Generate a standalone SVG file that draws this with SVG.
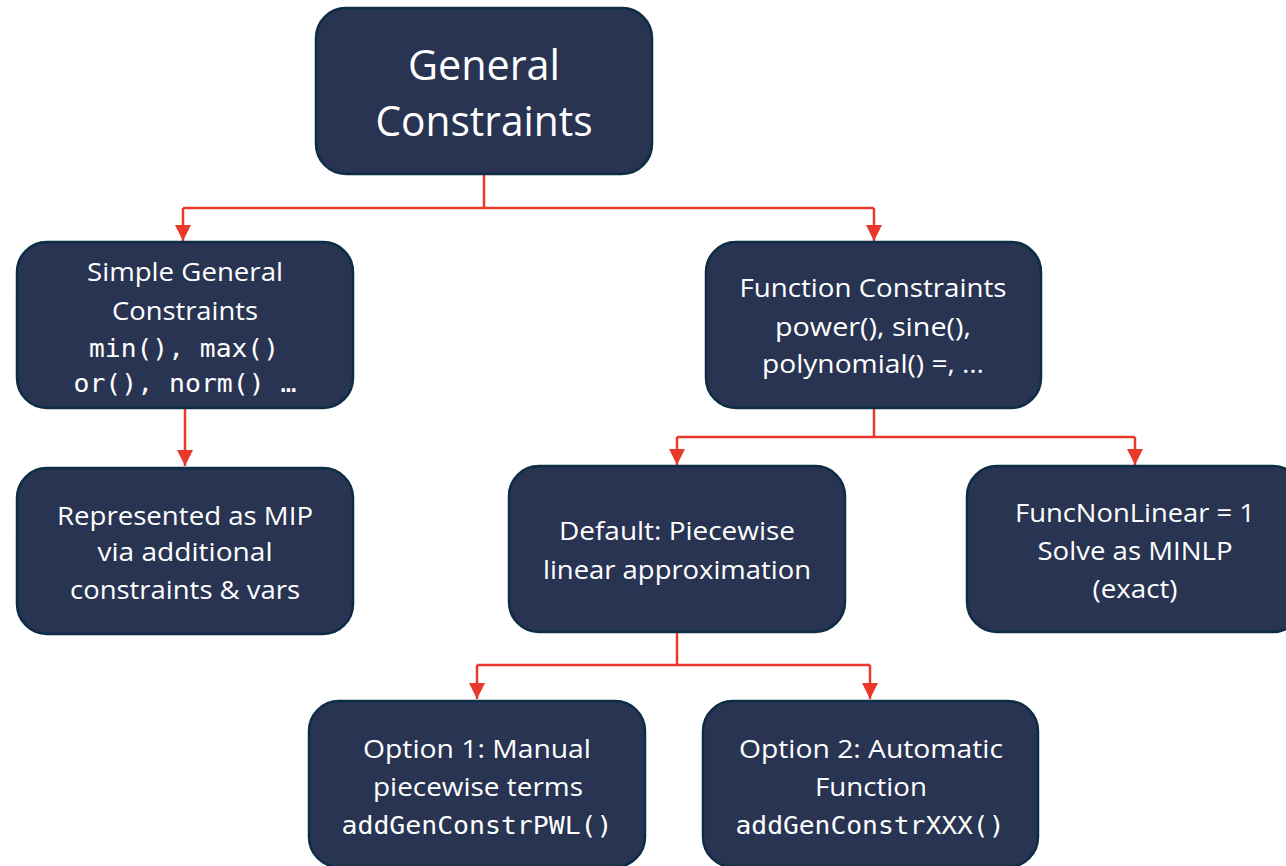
<svg xmlns="http://www.w3.org/2000/svg" width="1286" height="866" viewBox="0 0 1286 866">
<defs>
<style>
.box{fill:#283452;stroke:#0c2d44;stroke-width:2.5}
.t{fill:#ffffff;font-family:"Open Sans","Liberation Sans",sans-serif;font-size:26px;text-anchor:middle}
.big{font-size:42px}
.m{fill:#ffffff;font-family:"DejaVu Sans Mono","Liberation Mono",monospace;font-size:25px;text-anchor:middle}
.c{fill:none;stroke:#e8392a;stroke-width:2.5}
</style>
<marker id="down" markerWidth="16" markerHeight="16" viewBox="0 0 16 16" refX="8" refY="16" orient="0" markerUnits="userSpaceOnUse">
<path d="M0,0 L16,0 L8,16 Z" fill="#e8392a"/>
</marker>
</defs>
<rect width="1286" height="866" fill="#ffffff"/>
<g id="connectors">
<path class="c" d="M484,175 V208"/>
<path class="c" d="M183,208 H874"/>
<path class="c" d="M183,208 V241" marker-end="url(#down)"/>
<path class="c" d="M874,208 V241" marker-end="url(#down)"/>
<path class="c" d="M185,408 V466" marker-end="url(#down)"/>
<path class="c" d="M874,408 V437"/>
<path class="c" d="M677,437 H1135"/>
<path class="c" d="M677,437 V465" marker-end="url(#down)"/>
<path class="c" d="M1135,437 V465" marker-end="url(#down)"/>
<path class="c" d="M677,632 V665"/>
<path class="c" d="M477,665 H870"/>
<path class="c" d="M477,665 V699" marker-end="url(#down)"/>
<path class="c" d="M870,665 V699" marker-end="url(#down)"/>
</g>
<g id="node-general">
<rect class="box" x="316" y="8" width="336" height="166" rx="30"/>
<text class="t big" x="484" y="80" textLength="152" lengthAdjust="spacingAndGlyphs">General</text>
<text class="t big" x="484" y="136" textLength="217" lengthAdjust="spacingAndGlyphs">Constraints</text>
</g>
<g id="node-simple">
<rect class="box" x="17" y="242" width="336" height="166" rx="30"/>
<text class="t" x="185" y="281" textLength="196" lengthAdjust="spacingAndGlyphs">Simple General</text>
<text class="t" x="185" y="320" textLength="146" lengthAdjust="spacingAndGlyphs">Constraints</text>
<text class="m" x="184" y="357" textLength="190" lengthAdjust="spacingAndGlyphs">min(), max()</text>
<text class="m" x="185" y="392" textLength="223" lengthAdjust="spacingAndGlyphs">or(), norm() …</text>
</g>
<g id="node-function">
<rect class="box" x="706" y="242" width="335" height="166" rx="30"/>
<text class="t" x="873" y="297" textLength="267" lengthAdjust="spacingAndGlyphs">Function Constraints</text>
<text class="t" x="873" y="336" textLength="196" lengthAdjust="spacingAndGlyphs">power(), sine(),</text>
<text class="t" x="873" y="373" textLength="222" lengthAdjust="spacingAndGlyphs">polynomial() =, …</text>
</g>
<g id="node-mip">
<rect class="box" x="17" y="468" width="336" height="166" rx="30"/>
<text class="t" x="185" y="525" textLength="256" lengthAdjust="spacingAndGlyphs">Represented as MIP</text>
<text class="t" x="185" y="561" textLength="175" lengthAdjust="spacingAndGlyphs">via additional</text>
<text class="t" x="185" y="599" textLength="230" lengthAdjust="spacingAndGlyphs">constraints &amp; vars</text>
</g>
<g id="node-default">
<rect class="box" x="509" y="466" width="336" height="166" rx="30"/>
<text class="t" x="677" y="540" textLength="236" lengthAdjust="spacingAndGlyphs">Default: Piecewise</text>
<text class="t" x="677" y="579" textLength="268" lengthAdjust="spacingAndGlyphs">linear approximation</text>
</g>
<g id="node-minlp">
<rect class="box" x="967" y="466" width="336" height="166" rx="30"/>
<text class="t" x="1135" y="522" textLength="240" lengthAdjust="spacingAndGlyphs">FuncNonLinear = 1</text>
<text class="t" x="1135" y="560" textLength="195" lengthAdjust="spacingAndGlyphs">Solve as MINLP</text>
<text class="t" x="1135" y="598" textLength="85" lengthAdjust="spacingAndGlyphs">(exact)</text>
</g>
<g id="node-option1">
<rect class="box" x="309" y="701" width="336" height="166" rx="30"/>
<text class="t" x="477" y="758" textLength="228" lengthAdjust="spacingAndGlyphs">Option 1: Manual</text>
<text class="t" x="478" y="796" textLength="210" lengthAdjust="spacingAndGlyphs">piecewise terms</text>
<text class="m" x="477" y="834" textLength="271" lengthAdjust="spacingAndGlyphs">addGenConstrPWL()</text>
</g>
<g id="node-option2">
<rect class="box" x="703" y="701" width="335" height="166" rx="30"/>
<text class="t" x="871" y="758" textLength="264" lengthAdjust="spacingAndGlyphs">Option 2: Automatic</text>
<text class="t" x="871" y="796" textLength="112" lengthAdjust="spacingAndGlyphs">Function</text>
<text class="m" x="870" y="834" textLength="269" lengthAdjust="spacingAndGlyphs">addGenConstrXXX()</text>
</g>
</svg>
